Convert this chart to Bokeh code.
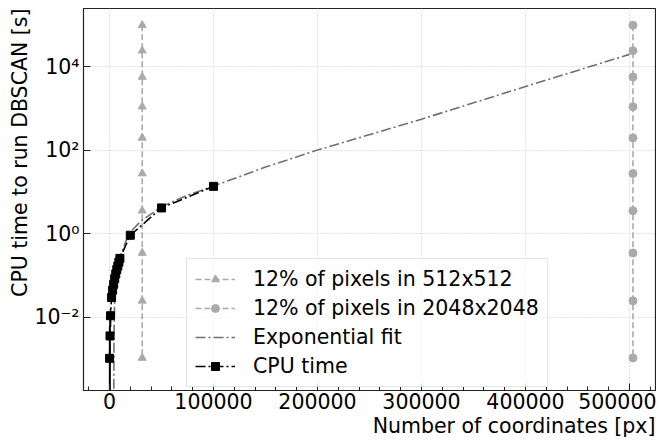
from bokeh.plotting import figure
from bokeh.models import (Range1d, FixedTicker, NumeralTickFormatter, CustomJSTickFormatter,
                          Legend, LegendItem, Title)
from bokeh.embed import file_html
from bokeh.resources import INLINE

# ---- data ----
n_512 = [31457] * 10          # 12% of 512x512
n_2048 = [503316] * 10        # 12% of 2048x2048
ref_times = [1.0e5, 2.45e4, 5.75e3, 1.12e3, 200, 28, 3.6, 0.35, 0.025, 0.00107]

cpu_n = [100, 500, 1000, 2000, 3000, 4000, 5000, 6000, 7000, 8000, 9000, 10000,
         20000, 50000, 100000]
cpu_t = [0.00105, 0.0036, 0.011, 0.03, 0.045, 0.062, 0.085, 0.11, 0.14, 0.17,
         0.21, 0.26, 0.93, 4.2, 13.8]
cpu_err = [0.005] * 15

fit_n = [4000, 4300, 5000, 6000, 8000, 10000, 15000, 20000, 30000, 50000, 75000,
         100000, 150000, 200000, 300000, 400000, 500000]
fit_t = [1e-5, 0.003, 0.03, 0.07, 0.17, 0.28, 0.6, 1.12, 2.0, 4.5, 8.5,
         14.0, 40.0, 102.0, 560.0, 3400.0, 2.0e4]

x_ticks = [0, 100000, 200000, 300000, 400000, 500000]
x_minor = [-20000] + [v for v in range(20000, 540000, 20000) if v % 100000 != 0]
y_ticks = [1e-2, 1e0, 1e2, 1e4]

x_title = "Number of coordinates [px]"
y_title = "CPU time to run DBSCAN [s]"

FONT = "DejaVu Sans"
FS = "20.5px"
GREY = "#aaaaaa"

p = figure(width=656, height=437, x_range=Range1d(-25000, 525000),
           y_range=Range1d(10 ** -3.75, 10 ** 5.4), y_axis_type="log",
           output_backend="svg", toolbar_location=None,
           min_border_left=83, min_border_right=1, min_border_top=8, min_border_bottom=10)

p.outline_line_color = "#222222"
p.outline_line_width = 1.2

# grid
for g in (p.xgrid, p.ygrid):
    g.grid_line_color = "#c8c8c8"
    g.grid_line_dash = "1 2"
    g.grid_line_width = 1

# axes
p.xaxis.ticker = FixedTicker(ticks=x_ticks, minor_ticks=x_minor)
p.xaxis.formatter = NumeralTickFormatter(format="0")
p.yaxis.ticker = FixedTicker(ticks=y_ticks, minor_ticks=[])
p.yaxis.formatter = CustomJSTickFormatter(code="""
const e = Math.round(Math.log10(tick));
const m = {'-':'\u207b','0':'\u2070','1':'\u00b9','2':'\u00b2','3':'\u00b3','4':'\u2074',
           '5':'\u2075','6':'\u2076','7':'\u2077','8':'\u2078','9':'\u2079'};
return '10' + String(e).split('').map(c => m[c]).join('');
""")
for ax in (p.xaxis, p.yaxis):
    ax.major_tick_in = 7
    ax.major_tick_out = 0
    ax.minor_tick_in = 4
    ax.minor_tick_out = 0
    ax.axis_line_color = "#222222"
    ax.major_tick_line_color = "#222222"
    ax.minor_tick_line_color = "#222222"
    ax.major_label_text_font = FONT
    ax.major_label_text_font_size = FS
    ax.major_label_text_color = "black"
p.xaxis.major_label_standoff = 2
p.yaxis.major_label_standoff = 4

# axis titles, right/top aligned as in the reference
p.add_layout(Title(text=x_title, align="right", text_font=FONT, text_font_size=FS,
                   text_font_style="normal", text_color="black", standoff=0, offset=0), "below")
p.add_layout(Title(text=y_title, align="right", text_font=FONT, text_font_size=FS,
                   text_font_style="normal", text_color="black", standoff=0, offset=0), "left")

# series
l1 = p.line(n_512, ref_times, line_color=GREY, line_dash="6 3", line_width=1.6)
s1 = p.scatter(n_512, ref_times, marker="triangle", size=8, color=GREY)
l2 = p.line(n_2048, ref_times, line_color=GREY, line_dash="6 3", line_width=1.6)
s2 = p.scatter(n_2048, ref_times, marker="circle", size=8, color=GREY)

lf = p.line(fit_n, fit_t, line_color="#707070", line_dash="10 3 2 3", line_width=1.6)

lower = [max(t - e, 1e-6) for t, e in zip(cpu_t, cpu_err)]
upper = [t + e for t, e in zip(cpu_t, cpu_err)]
p.segment(x0=cpu_n, y0=lower, x1=cpu_n, y1=upper, line_color="black", line_width=1.5)
lc = p.line(cpu_n, cpu_t, line_color="black", line_dash="10 3 2 3", line_width=1.6)
sc = p.scatter(cpu_n, cpu_t, marker="square", size=8, color="black")

legend = Legend(items=[
    LegendItem(label="12% of pixels in 512x512", renderers=[l1, s1]),
    LegendItem(label="12% of pixels in 2048x2048", renderers=[l2, s2]),
    LegendItem(label="Exponential fit", renderers=[lf]),
    LegendItem(label="CPU time", renderers=[lc, sc]),
], location=(103, 3))
legend.label_text_font = FONT
legend.label_text_font_size = FS
legend.label_text_color = "black"
legend.glyph_width = 40
legend.glyph_height = 20
legend.label_height = 20
legend.label_standoff = 18
legend.spacing = 5
legend.padding = 8
legend.margin = 0
legend.border_line_color = "#cccccc"
legend.border_line_width = 1
legend.background_fill_alpha = 0.8
p.add_layout(legend)

open("out.html", "w").write(file_html(p, INLINE))
